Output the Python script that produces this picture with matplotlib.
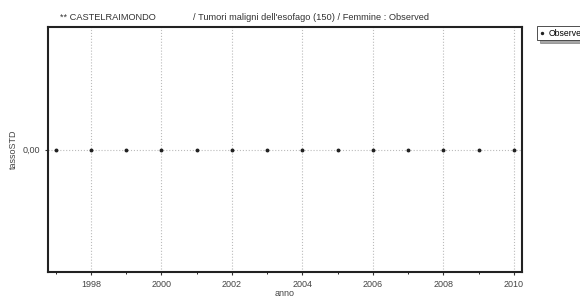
import numpy as np
import matplotlib
matplotlib.use("Agg")
import matplotlib.pyplot as plt
from matplotlib.ticker import MultipleLocator, FixedLocator

plt.rcParams['font.family'] = ['Liberation Sans', 'DejaVu Sans']

# data
anni = [1997, 1998, 1999, 2000, 2001, 2002, 2003, 2004, 2005, 2006, 2007, 2008, 2009, 2010]
tasso = [0.0] * len(anni)
xticks = [1998, 2000, 2002, 2004, 2006, 2008, 2010]

fig = plt.figure(figsize=(5.8, 2.99), dpi=100)
ax = fig.add_axes([48 / 580, 27 / 299, 474 / 580, 245 / 299])

ax.plot(anni, tasso, linestyle='none', marker='o', markersize=1.8, color='#222222', label='Observed')
ax.axhline(0, color='#bbbbbb', linestyle=':', linewidth=0.8, zorder=0)

ax.set_xlim(1996.78, 2010.23)
ax.set_ylim(-1, 1)
ax.xaxis.set_major_locator(FixedLocator(xticks))
ax.xaxis.set_minor_locator(MultipleLocator(1))
ax.set_yticks([0])
ax.set_yticklabels(['0,00'])
ax.grid(True, axis='x', which='major', color='#bbbbbb', linestyle=':', linewidth=0.8)
ax.tick_params(axis='both', labelsize=6.5, length=2.5, color='#333333', labelcolor='#444444')
ax.tick_params(axis='x', which='minor', length=1.5)
for s in ax.spines.values():
    s.set_linewidth(1.5)
    s.set_color('#222222')

ax.set_xlabel('anno', fontsize=6.5, color='#444444', labelpad=0)
ax.set_ylabel('tassoSTD', fontsize=6.5, color='#444444', labelpad=3)

# title is two separate pieces in the original
fig.text(60 / 580, 1 - 17 / 299, '** CASTELRAIMONDO', fontsize=6.7, color='#333333', va='center')
fig.text(193 / 580, 1 - 17 / 299, "/ Tumori maligni dell'esofago (150) / Femmine : Observed",
         fontsize=6.7, color='#333333', va='center')

# legend runs off the right edge like in the reference
leg = fig.legend(loc='upper left', bbox_to_anchor=(537 / 580, 1 - 26 / 299), fontsize=6.2,
                 frameon=True, fancybox=False, shadow=True, handlelength=0.6,
                 handletextpad=0.5, borderpad=0.3, borderaxespad=0, markerscale=0.8)
leg.get_frame().set_edgecolor('#333333')
leg.get_frame().set_linewidth(0.6)

fig.savefig('out.png', dpi=100)
